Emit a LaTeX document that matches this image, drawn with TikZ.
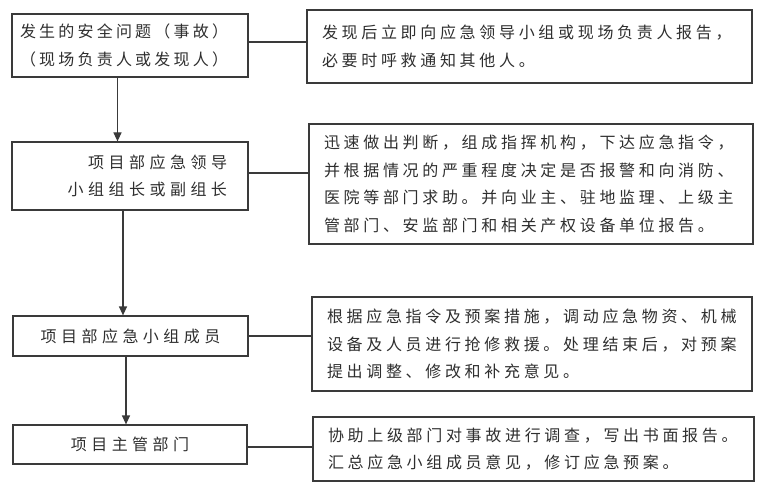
\documentclass[tikz,border=0pt]{standalone}
\usepackage{fontspec}
\newfontfamily\cjk{Noto Sans CJK SC}
\newfontfamily\cjkL[LetterSpace=28]{Noto Sans CJK SC}
\newfontfamily\cjkA[LetterSpace=20]{Noto Sans CJK SC}
\newfontfamily\cjkR[LetterSpace=23]{Noto Sans CJK SC}
\usetikzlibrary{arrows.meta}
\definecolor{ln}{HTML}{3A3A3A}
\definecolor{tx}{HTML}{2E2E2E}
\tikzset{
  box/.style={draw=ln, line width=1.2pt, inner sep=0pt, text=tx, rectangle},
  lbox/.style={box, font=\cjkL\fontsize{16}{27.5}\selectfont},
  rbox/.style={box, align=left, font=\cjkR\fontsize{16}{27.5}\selectfont},
  conn/.style={draw=ln, line width=1.2pt},
  arr/.style={conn, -{Triangle[width=8pt,length=9pt]}}
}
\begin{document}
\begin{tikzpicture}[x=1pt,y=-1pt]
\useasboundingbox (0,0) rectangle (760,492);
% left boxes
\node[box, font=\cjkA\fontsize{16}{27.5}\selectfont, align=left, minimum width=236pt, minimum height=63pt, text width=220pt] (b1) at (130,45.5) {发生的安全问题（事故）\\（现场负责人或发现人）};
\node[lbox, align=right, minimum width=236pt, minimum height=68pt, text width=194pt] (b2) at (130,176) {项目部应急领导\\小组组长或副组长};
\node[lbox, align=center, minimum width=235pt, minimum height=40pt, text width=205pt] (b3) at (130.5,336) {项目部应急小组成员};
\node[lbox, align=center, minimum width=234pt, minimum height=39pt, text width=204pt] (b4) at (130,444.5) {项目主管部门};
% right boxes
\node[rbox, minimum width=445pt, minimum height=73pt, text width=415pt] (r1) at (529.5,46.5) {发现后立即向应急领导小组或现场负责人报告，\\必要时呼救通知其他人。};
\node[rbox, minimum width=444pt, minimum height=120pt, text width=414pt] (r2) at (531,184) {迅速做出判断，组成指挥机构，下达应急指令，\\并根据情况的严重程度决定是否报警和向消防、\\医院等部门求助。并向业主、驻地监理、上级主\\管部门、安监部门和相关产权设备单位报告。};
\node[rbox, minimum width=440pt, minimum height=94pt, text width=410pt] (r3) at (532,344) {根据应急指令及预案措施，调动应急物资、机械\\设备及人员进行抢修救援。处理结束后，对预案\\提出调整、修改和补充意见。};
\node[rbox, minimum width=441pt, minimum height=64pt, text width=411pt] (r4) at (533.5,449) {协助上级部门对事故进行调查，写出书面报告。\\汇总应急小组成员意见，修订应急预案。};
% horizontal connectors
\coordinate (h1) at ([yshift=3.5pt]b1.east);
\coordinate (h2) at ([yshift=3pt]b2.east);
\coordinate (h3) at (b3.east);
\coordinate (h4) at ([yshift=-2.5pt]b4.east);
\draw[conn] (h1) -- (h1 -| r1.west);
\draw[conn] (h2) -- (h2 -| r2.west);
\draw[conn] (h3) -- (h3 -| r3.west);
\draw[conn] (h4) -- (h4 -| r4.west);
% vertical arrows
\coordinate (v1) at ([xshift=-12.5pt]b1.south);
\coordinate (v2) at ([xshift=-7pt]b2.south);
\coordinate (v3) at ([xshift=-4.5pt]b3.south);
\draw[arr] (v1) -- (v1 |- b2.north);
\draw[arr] (v2) -- (v2 |- b3.north);
\draw[arr] (v3) -- (v3 |- b4.north);
\end{tikzpicture}
\end{document}
